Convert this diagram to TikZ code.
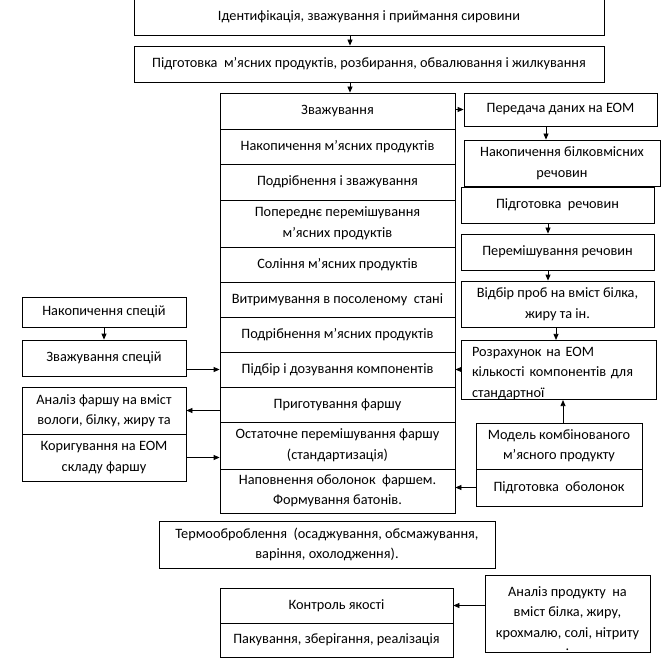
\documentclass[tikz,border=0pt]{standalone}
\usepackage{fontspec}
\setmainfont{Carlito}
\usetikzlibrary{arrows.meta}
\tikzset{
  bx/.style={draw, line width=0.8pt, rectangle, inner sep=0pt, align=center,
    font=\fontsize{14.3}{20.5}\selectfont},
  arr/.style={-{Triangle[length=6pt,width=5pt]}, line width=0.8pt},
}
\begin{document}
\begin{tikzpicture}[x=1pt,y=-1pt]
\useasboundingbox (0,0) rectangle (670,658);
% top boxes
\node[bx, minimum width=470pt, minimum height=37pt] (b1) at (369,16.5) {Ідентифікація, зважування і приймання сировини};
\node[bx, minimum width=470pt, minimum height=36pt] (b2) at (369,64) {Підготовка\ \ м’ясних продуктів, розбирання, обвалювання і жилкування};
% main column
\node[bx, minimum width=235pt, minimum height=36pt] (m1) at (337.5,111) {Зважування};
\node[bx, minimum width=235pt, minimum height=35pt] (m2) at (337.5,146.5) {Накопичення м’ясних продуктів};
\node[bx, minimum width=235pt, minimum height=36pt] (m3) at (337.5,182) {Подрібнення і зважування};
\node[bx, minimum width=235pt, minimum height=47pt] (m4) at (337.5,223.5) {Попереднє перемішування\\ м’ясних продуктів};
\node[bx, minimum width=235pt, minimum height=35pt] (m5) at (337.5,264.5) {Соління м’ясних продуктів};
\node[bx, minimum width=235pt, minimum height=35pt] (m6) at (337.5,299.5) {Витримування в посоленому\ \ стані};
\node[bx, minimum width=235pt, minimum height=35pt] (m7) at (337.5,334.5) {Подрібнення м’ясних продуктів};
\node[bx, minimum width=235pt, minimum height=35pt] (m8) at (337.5,369.5) {Підбір і дозування компонентів};
\node[bx, minimum width=235pt, minimum height=35pt] (m9) at (337.5,404.5) {Приготування фаршу};
\node[bx, minimum width=235pt, minimum height=47pt] (m10) at (337.5,445.5) {Остаточне перемішування фаршу\\(стандартизація)};
\node[bx, minimum width=235pt, minimum height=44pt] (m11) at (337.5,491) {Наповнення оболонок\ \ фаршем.\\Формування батонів.};
% right column
\node[bx, minimum width=193pt, minimum height=33pt] (p1) at (560.5,109.5) {Передача даних на ЕОМ};
\node[bx, minimum width=196pt, minimum height=46pt] (p2) at (562,163) {Накопичення білковмісних\\речовин};
\node[bx, minimum width=193pt, minimum height=36pt] (p3) at (557.5,205) {Підготовка\ \ речовин};
\node[bx, minimum width=193pt, minimum height=36pt] (p4) at (557.5,252) {Перемішування речовин};
\node[bx, minimum width=193pt, minimum height=46pt] (p5) at (557.5,304) {Відбір проб на вміст білка,\\жиру та ін.};
\node[bx, minimum width=195pt, minimum height=58pt, align=left, text width=173pt] (p6) at (558.5,370) {\rule{0pt}{16pt}Розрахунок на ЕОМ\\кількості компонентів для\\стандартної};
\node[bx, minimum width=166pt, minimum height=46pt] (p7) at (559,446) {Модель комбінованого\\м’ясного продукту};
\node[bx, minimum width=166pt, minimum height=37pt] (p8) at (559,487.5) {Підготовка\ \ оболонок};
% left column
\node[bx, minimum width=164pt, minimum height=30pt] (l1) at (104,312) {Накопичення спецій};
\node[bx, minimum width=164pt, minimum height=36pt] (l2) at (104,358) {Зважування спецій};
\node[bx, minimum width=164pt, minimum height=47pt] (l3) at (104,410.5) {Аналіз фаршу на вміст\\вологи, білку, жиру та};
\node[bx, minimum width=164pt, minimum height=47pt] (l4) at (104,457.5) {Коригування на ЕОМ\\складу фаршу};
% bottom
\node[bx, minimum width=336pt, minimum height=47pt] (t1) at (327,544.5) {Термооброблення\ \ (осаджування, обсмажування,\\варіння, охолодження).};
\node[bx, minimum width=233pt, minimum height=35pt] (c1) at (336.5,605.5) {Контроль якості};
\node[bx, minimum width=233pt, minimum height=34pt] (c2) at (336.5,640) {Пакування, зберігання, реалізація};
\node[bx, minimum width=165pt, minimum height=77pt] (a1) at (567.5,613.5) {\rule{0pt}{20pt}Аналіз продукту\ \ на\\вміст білка, жиру,\\крохмалю, солі, нітриту\\[-7pt].};
% helper coordinates
\coordinate (xa) at (350,0);
\coordinate (xb) at (546,0);
\coordinate (xc) at (548,0);
\coordinate (xd) at (556,0);
\coordinate (xe) at (563,0);
% connectors
\draw[arr] (b1.south -| xa) -- (b2.north -| xa);
\draw[arr] (b2.south -| xa) -- (m1.north -| xa);
\draw[arr] (m1.east |- p1.west) -- (p1.west);
\draw[arr] (p1.south -| xb) -- (p2.north -| xb);
\draw[arr] (p3.south -| xc) -- (p4.north -| xc);
\draw[arr] (p4.south -| xc) -- (p5.north -| xc);
\draw[arr] (p5.south -| xd) -- (p6.north -| xd);
\draw[arr] (p6.west |- m8.east) -- (m8.east);
\draw[arr] (p7.north -| xe) -- (p6.south -| xe);
\draw[arr] (p8.west) -- (p8.west -| m11.east);
\draw[arr] (l1.south) -- (l2.north);
\draw[arr] (l2.east |- m8.west) -- (m8.west);
\draw[arr] (l3.east -| m9.west) -- (l3.east);
\draw[arr] (l4.east) -- (l4.east -| m10.west);
\draw[arr] (a1.west |- c1.east) -- (c1.east);
\end{tikzpicture}
\end{document}
